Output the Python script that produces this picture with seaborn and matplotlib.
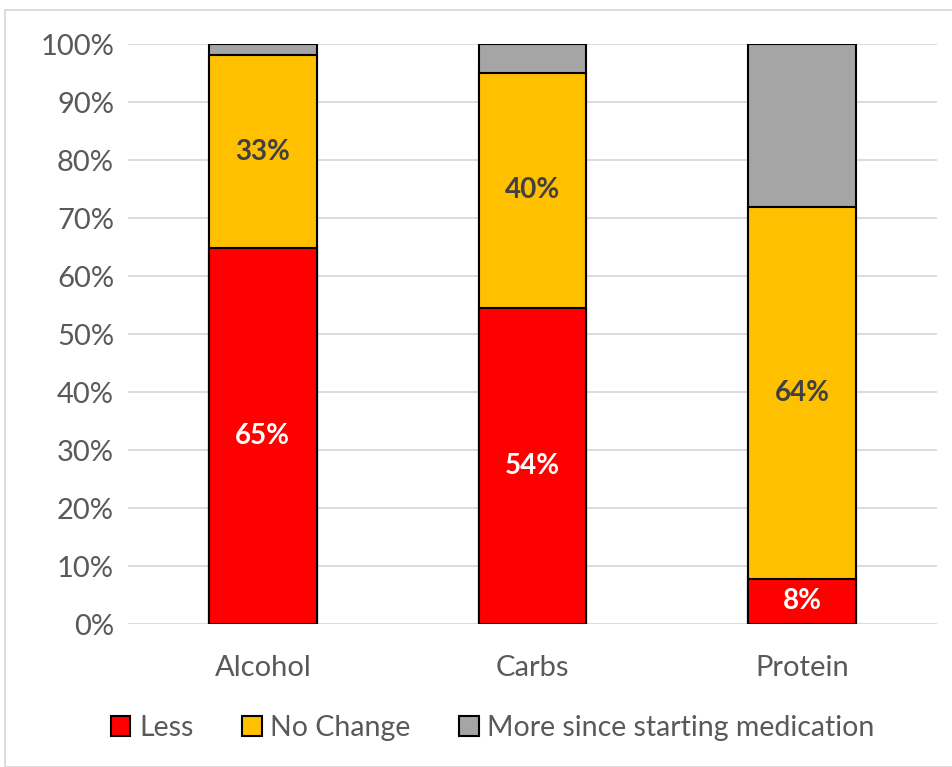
import numpy as np
import pandas as pd
import matplotlib
matplotlib.use("Agg")
import matplotlib.pyplot as plt
import seaborn as sns
from matplotlib.patches import Patch, Rectangle

# values (percent of respondents)
foods = ["Alcohol", "Carbs", "Protein"]
less = [64.8, 54.5, 7.8]
no_change = [33.3, 40.5, 64.1]
more = [1.9, 5.0, 28.1]
less_labels = ["65%", "54%", "8%"]
no_change_labels = ["33%", "40%", "64%"]

series_names = ["Less", "No Change", "More since starting medication"]
colors = ["#ff0000", "#ffc000", "#a5a5a5"]

sns.set_theme(style="white")
plt.rcParams["font.family"] = ["Lato", "DejaVu Sans"]

df = pd.DataFrame({"food": foods, "less": less, "no_change": no_change, "more": more})
df["top_yellow"] = df["less"] + df["no_change"]
df["top_grey"] = df["top_yellow"] + df["more"]

fig = plt.figure(figsize=(9.53, 7.67), dpi=100)
ax = fig.add_axes([0.1343, 0.1864, 0.849, 0.7562])

# stack by drawing the cumulative totals back to front
for col, c in [("top_grey", colors[2]), ("top_yellow", colors[1]), ("less", colors[0])]:
    sns.barplot(data=df, x="food", y=col, color=c, width=0.4, edgecolor="black",
                linewidth=1.5, saturation=1, ax=ax, zorder=3)

for i in range(len(foods)):
    ax.text(i, less[i] / 2, less_labels[i], ha="center", va="center",
            color="white", fontsize=20, fontweight="bold", zorder=5)
    ax.text(i, less[i] + no_change[i] / 2, no_change_labels[i], ha="center",
            va="center", color="#404040", fontsize=20, fontweight="bold", zorder=5)

ax.set_ylim(0, 100)
ax.set_xlim(-0.5, 2.5)
ax.set_yticks(np.arange(0, 101, 10))
ax.set_yticklabels([f"{v}%" for v in range(0, 101, 10)])
ax.yaxis.grid(True, color="#d9d9d9", linewidth=1.3, zorder=0)
ax.set_axisbelow(True)
for s in ["top", "right", "left", "bottom"]:
    ax.spines[s].set_visible(False)
ax.tick_params(axis="both", length=0, labelsize=21, colors="#595959", pad=10)
ax.tick_params(axis="x", pad=22)
ax.set_xlabel("")
ax.set_ylabel("")

handles = [Patch(facecolor=c, edgecolor="black", linewidth=1.5) for c in colors]
fig.legend(handles, series_names, loc="center", bbox_to_anchor=(0.517, 0.051), ncol=3,
           frameon=False, fontsize=20.5, labelcolor="#595959", handlelength=0.7,
           handleheight=0.7, handletextpad=0.3, columnspacing=1.7)

# light chart-area border
fig.patches.append(Rectangle((0.005, 0.0), 1.0, 0.987, transform=fig.transFigure,
                             fill=False, edgecolor="#d9d9d9", linewidth=1.3))

fig.savefig("out.png", dpi=100)
